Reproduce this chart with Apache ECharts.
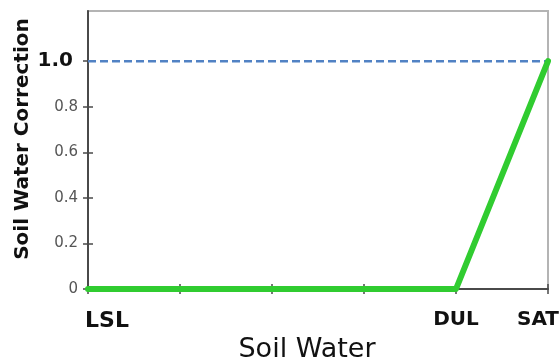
<!DOCTYPE html>
<html>
<head>
<meta charset="utf-8">
<script src="https://cdn.jsdelivr.net/npm/echarts@6/dist/echarts.min.js"></script>
<style>html,body{margin:0;padding:0;background:#fff}#c{width:559px;height:363px}</style>
</head>
<body>
<div id="c"></div>
<script>
// Soil water positions (LSL = 0 ... SAT = 5) and correction values
const soilWaterX = [0, 4, 5];
const correction = [0, 0, 1];
const xTickValues = [0, 1, 2, 3, 4, 5];
const xTickLabels = ['LSL', '', '', '', 'DUL', 'SAT'];
const yTickValues = [0, 0.2, 0.4, 0.6, 0.8, 1.0];
const yTickLabels = ['0', '0.2', '0.4', '0.6', '0.8', '1.0'];
const referenceLevel = 1.0;

const chart = echarts.init(document.getElementById('c'), null, {renderer: 'canvas'});

const lineData = soilWaterX.map((x, i) => [x, correction[i]]);
const refData = [[0, referenceLevel], [5, referenceLevel]];

const axisColor = '#4a4a4a';

chart.setOption({
  animation: false,
  grid: {left: 88, right: 11, top: 11, bottom: 74, outerBoundsMode: 'none', containLabel: false,
         show: true, borderColor: '#b4b4b4', borderWidth: 2, backgroundColor: '#fff'},
  xAxis: [{
    type: 'value', min: 0, max: 5, interval: 1, position: 'bottom',
    name: 'Soil Water', nameLocation: 'middle', nameGap: 47, nameMoveOverlap: false,
    nameTextStyle: {fontFamily: 'DejaVu Sans', fontSize: 27, color: '#111111', padding: [0, 22, 0, 0]},
    axisLine: {show: true, lineStyle: {color: axisColor, width: 2}},
    axisTick: {show: true, length: 5, lineStyle: {color: axisColor, width: 1.5}},
    splitLine: {show: false},
    axisLabel: {
      margin: 21,
      customValues: [0, 4, 5],
      formatter: v => {
        const t = xTickLabels[xTickValues.indexOf(v)];
        if (v === 0) return '{l|' + t + '}';
        if (v === 5) return '{r|' + t + '}';
        return '{c|' + t + '}';
      },
      rich: {
        l: {fontFamily: 'DejaVu Sans', fontWeight: 'bold', fontSize: 22, color: '#111111', padding: [0, 0, 0, 38]},
        c: {fontFamily: 'DejaVu Sans', fontWeight: 'bold', fontSize: 20, color: '#111111'},
        r: {fontFamily: 'DejaVu Sans', fontWeight: 'bold', fontSize: 20, color: '#111111', padding: [0, 20, 0, 0]}
      }
    }
  }, {
    type: 'value', min: 0, max: 5, interval: 1, position: 'bottom',
    axisLine: {show: false}, splitLine: {show: false}, axisLabel: {show: false},
    axisTick: {show: true, inside: true, length: 5, lineStyle: {color: axisColor, width: 1.5}}
  }],
  yAxis: [{
    type: 'value', min: 0, max: 1.22, position: 'left',
    name: 'Soil Water Correction', nameLocation: 'middle', nameGap: 55, nameRotate: 90, nameMoveOverlap: false,
    nameTextStyle: {fontFamily: 'DejaVu Sans', fontWeight: 'bold', fontSize: 20, color: '#111111', padding: [0, 0, 0, 22]},
    axisLine: {show: true, lineStyle: {color: axisColor, width: 2}},
    axisTick: {show: true, length: 5, customValues: yTickValues, lineStyle: {color: axisColor, width: 1.5}},
    splitLine: {show: false},
    axisLabel: {
      margin: 10,
      customValues: yTickValues,
      formatter: v => {
        const i = yTickValues.findIndex(t => Math.abs(t - v) < 1e-6);
        const t = yTickLabels[i];
        return v === referenceLevel ? '{b|' + t + '}' : '{n|' + t + '}';
      },
      rich: {
        n: {fontFamily: 'DejaVu Sans', fontSize: 15, color: '#555555'},
        b: {fontFamily: 'DejaVu Sans', fontWeight: 'bold', fontSize: 20, color: '#111111', padding: [0, 5, 0, 0]}
      }
    }
  }, {
    type: 'value', min: 0, max: 1.22, position: 'left',
    axisLine: {show: false}, splitLine: {show: false}, axisLabel: {show: false},
    axisTick: {show: true, inside: true, length: 5, customValues: yTickValues, lineStyle: {color: axisColor, width: 1.5}}
  }],
  series: [{
    type: 'line', data: refData, symbol: 'none', silent: true, z: 3,
    lineStyle: {color: '#5182c4', width: 2.5, type: [8, 4]}
  }, {
    type: 'line', data: lineData, symbol: 'none', silent: true, z: 4,
    lineStyle: {color: '#30cc30', width: 6, cap: 'round', join: 'round'}
  }]
});
</script>
</body>
</html>
